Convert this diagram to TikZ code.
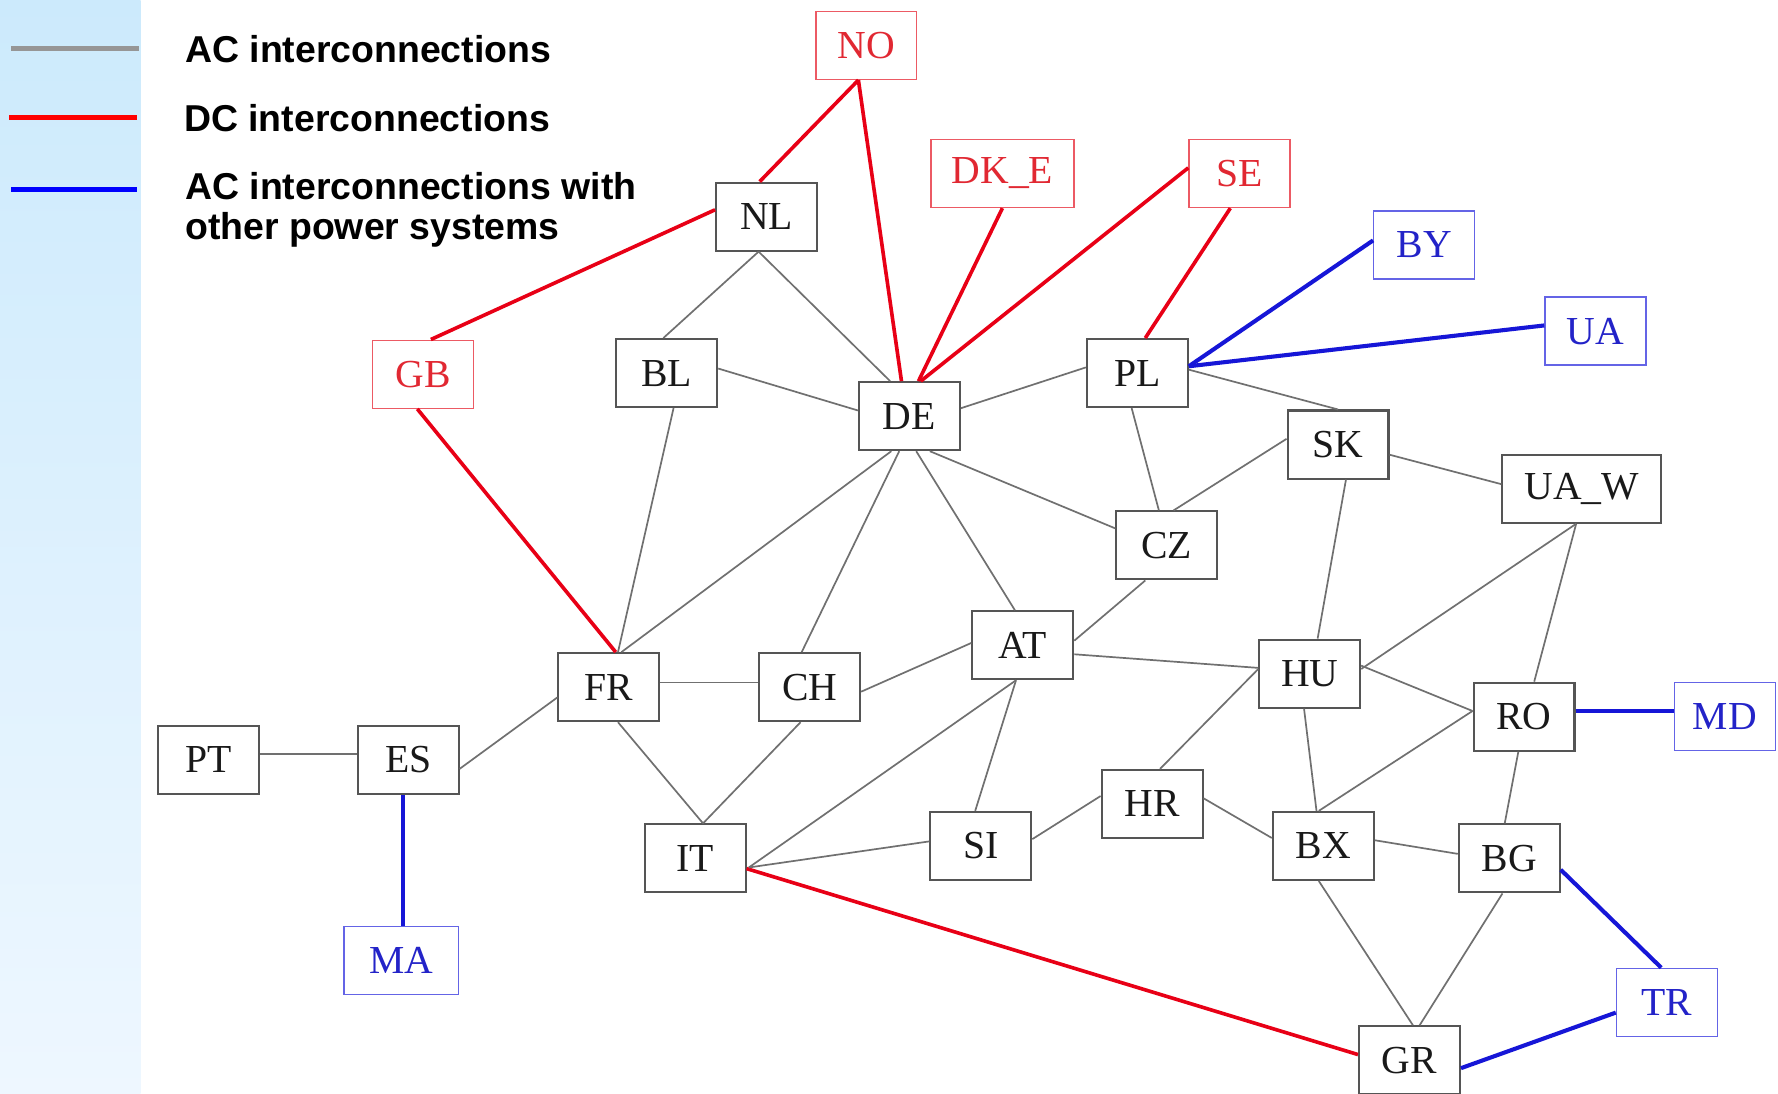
\documentclass[tikz,border=0pt]{standalone}
\usepackage{fontspec}
\setmainfont{Liberation Serif}
\newfontfamily\legendfont{Liberation Sans}
\usetikzlibrary{calc}
\definecolor{boxgray}{RGB}{85,85,85}
\definecolor{acgray}{RGB}{112,112,112}
\definecolor{legray}{RGB}{150,150,150}
\definecolor{dcred}{RGB}{232,0,22}
\definecolor{nodered}{RGB}{225,40,50}
\definecolor{bordred}{RGB}{236,90,100}
\definecolor{extblue}{RGB}{22,22,215}
\definecolor{nodeblue}{RGB}{35,35,200}
\definecolor{bordblue}{RGB}{100,100,230}
\definecolor{paneltop}{RGB}{204,234,252}
\definecolor{panelbot}{RGB}{238,247,255}
\tikzset{
  cbox/.style={draw=boxgray, line width=0.9pt, minimum width=44.5pt, minimum height=30pt,
    inner sep=0pt, font=\fontsize{17.5}{20}\selectfont, text={black!90}},
  redbox/.style={cbox, draw=bordred, line width=0.6pt, text=nodered},
  bluebox/.style={cbox, draw=bordblue, line width=0.6pt, text=nodeblue},
  ac/.style={draw=acgray, line width=0.75pt},
  dc/.style={draw=dcred, line width=1.6pt},
  ext/.style={draw=extblue, line width=1.8pt},
  legtext/.style={anchor=west, align=left, inner sep=0pt, text=black,
    font=\legendfont\bfseries\fontsize{16.5}{18}\selectfont}
}
\begin{document}
\begin{tikzpicture}[x=0.5pt, y=-0.5pt]
\useasboundingbox (0,0) rectangle (1568,964);
\fill[white] (0,0) rectangle (1568,964);
\shade[top color=paneltop, bottom color=panelbot] (0,0) rectangle (124,964);

% legend
\coordinate (l1a) at (10,43);  \coordinate (l1b) at (123,43);
\coordinate (l2a) at (8,104);  \coordinate (l2b) at (121,104);
\coordinate (l3a) at (10,167); \coordinate (l3b) at (121,167);
\draw[draw=legray, line width=2.2pt] (l1a) -- (l1b);
\draw[draw=red, line width=2.2pt] (l2a) -- (l2b);
\draw[draw=blue, line width=2.1pt] (l3a) -- (l3b);
\node[legtext] (t1) at (163,43) {AC interconnections};
\node[legtext] (t2) at (162,104) {DC interconnections};
\node[legtext] (t3) at (163,185) {AC interconnections with\\other power systems};

% nodes
\node[redbox] (NO) at (764,40) {NO};
\node[redbox, minimum width=63pt] (DKE) at (884,153) {DK\_E};
\node[redbox] (SE) at (1093,153) {SE};
\node[cbox] (NL) at (676,191) {NL};
\node[bluebox] (BY) at (1256,216) {BY};
\node[bluebox] (UA) at (1407,292) {UA};
\node[redbox] (GB) at (373,330) {GB};
\node[cbox] (BL) at (588,329) {BL};
\node[cbox] (DE) at (802,367) {DE};
\node[cbox] (PL) at (1003,329) {PL};
\node[cbox] (SK) at (1180,392) {SK};
\node[cbox, minimum width=70pt] (UAW) at (1395,431) {UA\_W};
\node[cbox] (CZ) at (1029,481) {CZ};
\node[cbox] (AT) at (902,569) {AT};
\node[cbox] (FR) at (537,606) {FR};
\node[cbox] (CH) at (714,606) {CH};
\node[cbox] (HU) at (1155,594) {HU};
\node[cbox] (RO) at (1344,632) {RO};
\node[bluebox] (MD) at (1521,632) {MD};
\node[cbox] (PT) at (184,670) {PT};
\node[cbox] (ES) at (360,670) {ES};
\node[cbox] (HR) at (1016,709) {HR};
\node[cbox] (IT) at (613,757) {IT};
\node[cbox] (SI) at (865,746) {SI};
\node[cbox] (BX) at (1167,746) {BX};
\node[cbox] (BG) at (1331,757) {BG};
\node[bluebox, minimum width=50.5pt] (MA) at (354,847) {MA};
\node[bluebox] (TR) at (1470,884) {TR};
\node[cbox] (GR) at (1243,935) {GR};

% DC links
\draw[dc] ($(NO.south)+(-7,0)$) -- ($(NL.north)+(-6,0)$);
\draw[dc] ($(NO.south)+(-7,0)$) -- ($(DE.north)+(-7,0)$);
\draw[dc] ($(NL.west)+(0,-6)$) -- ($(GB.north)+(7,0)$);
\draw[dc] (DKE.south) -- ($(DE.north)+(8,0)$);
\draw[dc] ($(SE.west)+(0,-5)$) -- ($(DE.north)+(10,0)$);
\draw[dc] ($(SE.south)+(-8,0)$) -- ($(PL.north)+(7,0)$);
\draw[dc] ($(GB.south)+(-5,0)$) -- ($(FR.north)+(6,0)$);
\draw[dc] ($(IT.east)+(0,9)$) -- ($(GR.west)+(0,-5)$);

% links to other systems
\draw[ext] ($(PL.east)+(0,-6)$) -- ($(BY.west)+(0,-4)$);
\draw[ext] ($(PL.east)+(0,-6)$) -- ($(UA.west)+(0,-5)$);
\draw[ext] ($(ES.south)+(-5,0)$) -- ($(MA.north)+(1,0)$);
\draw[ext] ($(RO.east)+(0,-5)$) -- ($(MD.west)+(0,-5)$);
\draw[ext] ($(BG.east)+(0,10)$) -- ($(TR.north)+(-5,0)$);
\draw[ext] ($(GR.east)+(0,7)$) -- ($(TR.west)+(0,9)$);

% AC links
\draw[ac] ($(NL.south)+(-7,0)$) -- ($(BL.north)+(-3,0)$);
\draw[ac] ($(NL.south)+(-7,0)$) -- ($(DE.north)+(-17,0)$);
\draw[ac] ($(BL.east)+(0,-4)$) -- ($(DE.west)+(0,-5)$);
\draw[ac] ($(DE.east)+(0,-7)$) -- ($(PL.west)+(0,-5)$);
\draw[ac] ($(PL.east)+(0,-3)$) -- (SK.north);
\draw[ac] ($(PL.south)+(-5,0)$) -- ($(CZ.north)+(-7,0)$);
\draw[ac] ($(SK.west)+(0,-5)$) -- ($(CZ.north)+(6,0)$);
\draw[ac] ($(SK.east)+(0,9)$) -- ($(UAW.west)+(0,-4)$);
\draw[ac] ($(SK.south)+(7,0)$) -- ($(HU.north)+(7,0)$);
\draw[ac] ($(DE.south)+(18,0)$) -- ($(CZ.west)+(0,-15)$);
\draw[ac] ($(DE.south)+(6,0)$) -- ($(AT.north)+(-7,0)$);
\draw[ac] ($(DE.south)+(-9,0)$) -- ($(CH.north)+(-7,0)$);
\draw[ac] ($(DE.south)+(-16,0)$) -- ($(FR.north)+(11,0)$);
\draw[ac] ($(BL.south)+(6,0)$) -- ($(FR.north)+(8,0)$);
\draw[ac] ($(CZ.south)+(-19,0)$) -- ($(AT.east)+(0,-4)$);
\draw[ac] ($(FR.east)+(0,-4)$) -- ($(CH.west)+(0,-4)$);
\draw[ac] ($(CH.east)+(0,4)$) -- ($(AT.west)+(0,-2)$);
\draw[ac] ($(AT.east)+(0,8)$) -- ($(HU.west)+(0,-5)$);
\draw[ac] ($(FR.west)+(0,9)$) -- ($(ES.east)+(0,8)$);
\draw[ac] ($(PT.east)+(0,-5)$) -- ($(ES.west)+(0,-5)$);
\draw[ac] ($(FR.south)+(8,0)$) -- ($(IT.north)+(7,0)$);
\draw[ac] ($(CH.south)+(-8,0)$) -- ($(IT.north)+(7,0)$);
\draw[ac] ($(IT.east)+(2,8)$) -- ($(AT.south)+(-6,0)$);
\draw[ac] ($(IT.east)+(2,8)$) -- ($(SI.west)+(0,-4)$);
\draw[ac] ($(AT.south)+(-6,0)$) -- ($(SI.north)+(-5,0)$);
\draw[ac] ($(SI.east)+(0,-6)$) -- ($(HR.west)+(0,-7)$);
\draw[ac] ($(HR.north)+(7,0)$) -- ($(HU.west)+(0,-4)$);
\draw[ac] ($(HR.east)+(0,-5)$) -- ($(BX.west)+(0,-7)$);
\draw[ac] ($(HU.east)+(0,-4)$) -- ($(UAW.south)+(-5,0)$);
\draw[ac] ($(UAW.south)+(-5,0)$) -- ($(RO.north)+(9,0)$);
\draw[ac] ($(HU.east)+(0,-7)$) -- ($(RO.west)+(0,-5)$);
\draw[ac] ($(HU.south)+(-5,0)$) -- ($(BX.north)+(-6,0)$);
\draw[ac] ($(BX.north)+(-4,0)$) -- ($(RO.west)+(0,-5)$);
\draw[ac] ($(BX.east)+(0,-5)$) -- ($(BG.west)+(0,-4)$);
\draw[ac] ($(RO.south)+(-5,0)$) -- ($(BG.north)+(-4,0)$);
\draw[ac] ($(BX.south)+(-4,0)$) -- ($(GR.north)+(3,0)$);
\draw[ac] ($(BG.south)+(-6,0)$) -- ($(GR.north)+(9,0)$);
\end{tikzpicture}
\end{document}
